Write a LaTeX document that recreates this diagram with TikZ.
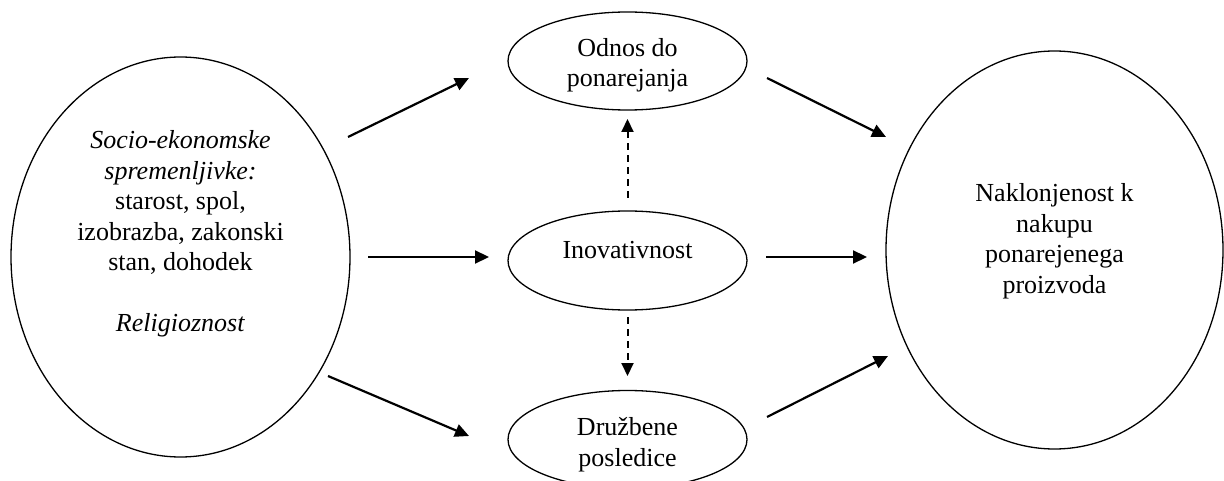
\documentclass[tikz,border=0pt]{standalone}
\usepackage{fontspec}
\setmainfont{Liberation Serif}
\usetikzlibrary{shapes.geometric,arrows.meta,calc}
\tikzset{
  oval/.style={ellipse, draw, line width=1.3pt, inner sep=0pt},
  txt/.style={align=center, font=\fontsize{26}{30.5}\selectfont, inner sep=0pt},
  arr/.style={line width=2.2pt, -{Triangle[length=14pt,width=13pt]}},
  darr/.style={line width=2pt, dash pattern=on 7pt off 5pt, -{Triangle[length=13pt,width=12pt]}}
}
\begin{document}
\begin{tikzpicture}[x=1pt,y=-1pt]
\useasboundingbox (0,0) rectangle (1224,481);
% ellipses
\node[oval, minimum width=339pt, minimum height=400pt] (L) at (180.5,257) {};
\node[oval, minimum width=337pt, minimum height=398pt] (R) at (1054.5,250) {};
\node[oval, minimum width=239pt, minimum height=98pt] (T) at (627.5,61) {};
\node[oval, minimum width=239pt, minimum height=99pt] (M) at (627.5,260.5) {};
\node[oval, minimum width=239pt, minimum height=98pt] (B) at (627.5,439.5) {};
% texts
\node[txt] (Lt) at ($(L.center)+(0,-23)$) {\textit{Socio-ekonomske}\\\textit{spremenljivke:}\\starost, spol,\\izobrazba, zakonski\\stan, dohodek\\[30.5pt]\textit{Religioznost}};
\node[txt] (Rt) at ($(R.center)+(0,-9)$) {Naklonjenost k\\nakupu\\ponarejenega\\proizvoda};
\node[txt] (Tt) at ($(T.center)+(0,4)$) {Odnos do\\ponarejanja};
\node[txt] (Mt) at ($(M.center)+(0,-10)$) {Inovativnost};
\node[txt] (Bt) at ($(B.center)+(0,5)$) {Družbene\\posledice};
% connector ends
\coordinate (a1s) at (348,137); \coordinate (a1e) at (469,78);
\coordinate (a2s) at (368,257); \coordinate (a2e) at (489,257);
\coordinate (a3s) at (328,376); \coordinate (a3e) at (469,436);
\coordinate (d1s) at (627.5,198); \coordinate (d1e) at (627.5,119);
\coordinate (d2s) at (627.5,317); \coordinate (d2e) at (627.5,376);
\coordinate (b1s) at (767,78); \coordinate (b1e) at (886,137);
\coordinate (b2s) at (766,257); \coordinate (b2e) at (867,257);
\coordinate (b3s) at (767,417); \coordinate (b3e) at (888,356);
% arrows
\draw[arr] (a1s) -- (a1e);
\draw[arr] (a2s) -- (a2e);
\draw[arr] (a3s) -- (a3e);
\draw[darr] (d1s) -- (d1e);
\draw[darr] (d2s) -- (d2e);
\draw[arr] (b1s) -- (b1e);
\draw[arr] (b2s) -- (b2e);
\draw[arr] (b3s) -- (b3e);
\end{tikzpicture}
\end{document}
